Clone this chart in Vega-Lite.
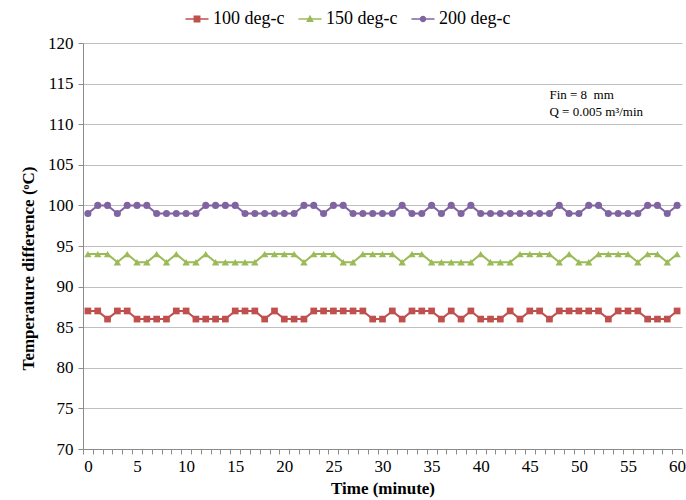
{
  "$schema": "https://vega.github.io/schema/vega-lite/v6.json",
  "width": 599,
  "height": 406,
  "autosize": {"type": "none"},
  "padding": {"left": 83, "top": 43, "right": 4, "bottom": 51},
  "background": "white",
  "config": {
    "view": {"stroke": null},
    "font": "Liberation Serif",
    "axis": {"labelFont": "Liberation Serif", "titleFont": "Liberation Serif", "labelColor": "black", "titleColor": "black", "labelFontSize": 17, "titleFontSize": 17, "titleFontWeight": "bold"},
    "legend": {"labelFont": "Liberation Serif", "labelFontSize": 18, "labelColor": "black", "orient": "none", "legendX": 105, "legendY": -33, "direction": "horizontal", "title": null, "symbolSize": 237, "columnPadding": 13, "symbolStrokeWidth": 0, "labelOffset": 7}
  },
  "datasets": {
    "series": [
      {"t":0,"100 deg-c":87,"150 deg-c":94,"200 deg-c":99},
      {"t":1,"100 deg-c":87,"150 deg-c":94,"200 deg-c":100},
      {"t":2,"100 deg-c":86,"150 deg-c":94,"200 deg-c":100},
      {"t":3,"100 deg-c":87,"150 deg-c":93,"200 deg-c":99},
      {"t":4,"100 deg-c":87,"150 deg-c":94,"200 deg-c":100},
      {"t":5,"100 deg-c":86,"150 deg-c":93,"200 deg-c":100},
      {"t":6,"100 deg-c":86,"150 deg-c":93,"200 deg-c":100},
      {"t":7,"100 deg-c":86,"150 deg-c":94,"200 deg-c":99},
      {"t":8,"100 deg-c":86,"150 deg-c":93,"200 deg-c":99},
      {"t":9,"100 deg-c":87,"150 deg-c":94,"200 deg-c":99},
      {"t":10,"100 deg-c":87,"150 deg-c":93,"200 deg-c":99},
      {"t":11,"100 deg-c":86,"150 deg-c":93,"200 deg-c":99},
      {"t":12,"100 deg-c":86,"150 deg-c":94,"200 deg-c":100},
      {"t":13,"100 deg-c":86,"150 deg-c":93,"200 deg-c":100},
      {"t":14,"100 deg-c":86,"150 deg-c":93,"200 deg-c":100},
      {"t":15,"100 deg-c":87,"150 deg-c":93,"200 deg-c":100},
      {"t":16,"100 deg-c":87,"150 deg-c":93,"200 deg-c":99},
      {"t":17,"100 deg-c":87,"150 deg-c":93,"200 deg-c":99},
      {"t":18,"100 deg-c":86,"150 deg-c":94,"200 deg-c":99},
      {"t":19,"100 deg-c":87,"150 deg-c":94,"200 deg-c":99},
      {"t":20,"100 deg-c":86,"150 deg-c":94,"200 deg-c":99},
      {"t":21,"100 deg-c":86,"150 deg-c":94,"200 deg-c":99},
      {"t":22,"100 deg-c":86,"150 deg-c":93,"200 deg-c":100},
      {"t":23,"100 deg-c":87,"150 deg-c":94,"200 deg-c":100},
      {"t":24,"100 deg-c":87,"150 deg-c":94,"200 deg-c":99},
      {"t":25,"100 deg-c":87,"150 deg-c":94,"200 deg-c":100},
      {"t":26,"100 deg-c":87,"150 deg-c":93,"200 deg-c":100},
      {"t":27,"100 deg-c":87,"150 deg-c":93,"200 deg-c":99},
      {"t":28,"100 deg-c":87,"150 deg-c":94,"200 deg-c":99},
      {"t":29,"100 deg-c":86,"150 deg-c":94,"200 deg-c":99},
      {"t":30,"100 deg-c":86,"150 deg-c":94,"200 deg-c":99},
      {"t":31,"100 deg-c":87,"150 deg-c":94,"200 deg-c":99},
      {"t":32,"100 deg-c":86,"150 deg-c":93,"200 deg-c":100},
      {"t":33,"100 deg-c":87,"150 deg-c":94,"200 deg-c":99},
      {"t":34,"100 deg-c":87,"150 deg-c":94,"200 deg-c":99},
      {"t":35,"100 deg-c":87,"150 deg-c":93,"200 deg-c":100},
      {"t":36,"100 deg-c":86,"150 deg-c":93,"200 deg-c":99},
      {"t":37,"100 deg-c":87,"150 deg-c":93,"200 deg-c":100},
      {"t":38,"100 deg-c":86,"150 deg-c":93,"200 deg-c":99},
      {"t":39,"100 deg-c":87,"150 deg-c":93,"200 deg-c":100},
      {"t":40,"100 deg-c":86,"150 deg-c":94,"200 deg-c":99},
      {"t":41,"100 deg-c":86,"150 deg-c":93,"200 deg-c":99},
      {"t":42,"100 deg-c":86,"150 deg-c":93,"200 deg-c":99},
      {"t":43,"100 deg-c":87,"150 deg-c":93,"200 deg-c":99},
      {"t":44,"100 deg-c":86,"150 deg-c":94,"200 deg-c":99},
      {"t":45,"100 deg-c":87,"150 deg-c":94,"200 deg-c":99},
      {"t":46,"100 deg-c":87,"150 deg-c":94,"200 deg-c":99},
      {"t":47,"100 deg-c":86,"150 deg-c":94,"200 deg-c":99},
      {"t":48,"100 deg-c":87,"150 deg-c":93,"200 deg-c":100},
      {"t":49,"100 deg-c":87,"150 deg-c":94,"200 deg-c":99},
      {"t":50,"100 deg-c":87,"150 deg-c":93,"200 deg-c":99},
      {"t":51,"100 deg-c":87,"150 deg-c":93,"200 deg-c":100},
      {"t":52,"100 deg-c":87,"150 deg-c":94,"200 deg-c":100},
      {"t":53,"100 deg-c":86,"150 deg-c":94,"200 deg-c":99},
      {"t":54,"100 deg-c":87,"150 deg-c":94,"200 deg-c":99},
      {"t":55,"100 deg-c":87,"150 deg-c":94,"200 deg-c":99},
      {"t":56,"100 deg-c":87,"150 deg-c":93,"200 deg-c":99},
      {"t":57,"100 deg-c":86,"150 deg-c":94,"200 deg-c":100},
      {"t":58,"100 deg-c":86,"150 deg-c":94,"200 deg-c":100},
      {"t":59,"100 deg-c":86,"150 deg-c":93,"200 deg-c":99},
      {"t":60,"100 deg-c":87,"150 deg-c":94,"200 deg-c":100}
    ],
    "notes": [
      {"x": 47.0, "y": 113.6, "label": "Fin = 8 \u00a0mm"},
      {"x": 47.0, "y": 111.5, "label": "Q = 0.005 m³/min"}
    ]
  },
  "layer": [
    {
      "data": {"name": "series"},
      "transform": [{"fold": ["100 deg-c", "150 deg-c", "200 deg-c"], "as": ["series", "value"]}],
      "mark": {"type": "line", "strokeWidth": 2},
      "encoding": {
        "x": {"field": "t", "type": "quantitative", "scale": {"domain": [-0.5, 60.5], "nice": false, "zero": false},
          "axis": {"values": [0,5,10,15,20,25,30,35,40,45,50,55,60], "tickSize": 0, "labelPadding": 9, "grid": false, "domainColor": "#8C8C8C", "title": "Time (minute)", "titlePadding": 6, "labelFlush": false, "orient": "bottom"}},
        "y": {"field": "value", "type": "quantitative", "scale": {"domain": [70, 120], "nice": false, "zero": false},
          "axis": {"values": [70,75,80,85,90,95,100,105,110,115,120], "grid": true, "gridColor": "#BFBFBF", "gridWidth": 1, "domainColor": "#8C8C8C", "tickColor": "#8C8C8C", "tickSize": 5, "labelPadding": 5, "title": "Temperature difference (ᵒC)", "titlePadding": 10, "titleY": 225}},
        "color": {"field": "series", "type": "nominal", "scale": {"domain": ["100 deg-c", "150 deg-c", "200 deg-c"], "range": ["#C0504D", "#9BBB59", "#8064A2"]},
          "legend": {"encode": {"symbols": {"update": {"shape": {"signal": "datum.value === '100 deg-c' ? 'M-1.5,-0.09H1.5V0.09H-1.5ZM-0.45,-0.45H0.45V0.45H-0.45Z' : datum.value === '150 deg-c' ? 'M-1.5,-0.09H1.5V0.09H-1.5ZM0,-0.55L0.5,0.4H-0.5Z' : 'M-1.5,-0.09H1.5V0.09H-1.5ZM0.42,0A0.42,0.42 0 1,1 -0.42,0A0.42,0.42 0 1,1 0.42,0Z'"}, "fill": {"signal": "scale('color', datum.value)"}, "stroke": {"value": "transparent"}, "opacity": {"value": 1}}}}}}
      }
    },
    {
      "data": {"name": "series"},
      "transform": [{"fold": ["100 deg-c"], "as": ["series", "value"]}],
      "mark": {"type": "point", "filled": true, "opacity": 1, "shape": "square", "size": 45},
      "encoding": {
        "x": {"field": "t", "type": "quantitative",
          "axis": {"values": [-0.5,0.5,1.5,2.5,3.5,4.5,5.5,6.5,7.5,8.5,9.5,10.5,11.5,12.5,13.5,14.5,15.5,16.5,17.5,18.5,19.5,20.5,21.5,22.5,23.5,24.5,25.5,26.5,27.5,28.5,29.5,30.5,31.5,32.5,33.5,34.5,35.5,36.5,37.5,38.5,39.5,40.5,41.5,42.5,43.5,44.5,45.5,46.5,47.5,48.5,49.5,50.5,51.5,52.5,53.5,54.5,55.5,56.5,57.5,58.5,59.5,60.5], "labels": false, "domain": false, "grid": false, "tickSize": 5, "tickColor": "#8C8C8C", "title": null, "orient": "bottom"}},
        "y": {"field": "value", "type": "quantitative"},
        "color": {"field": "series", "type": "nominal"}
      }
    },
    {
      "data": {"name": "series"},
      "transform": [{"fold": ["150 deg-c"], "as": ["series", "value"]}],
      "mark": {"type": "point", "filled": true, "opacity": 1, "shape": "triangle-up", "size": 55},
      "encoding": {
        "x": {"field": "t", "type": "quantitative", "axis": null},
        "y": {"field": "value", "type": "quantitative"},
        "color": {"field": "series", "type": "nominal"}
      }
    },
    {
      "data": {"name": "series"},
      "transform": [{"fold": ["200 deg-c"], "as": ["series", "value"]}],
      "mark": {"type": "point", "filled": true, "opacity": 1, "shape": "circle", "size": 50},
      "encoding": {
        "x": {"field": "t", "type": "quantitative", "axis": null},
        "y": {"field": "value", "type": "quantitative"},
        "color": {"field": "series", "type": "nominal"}
      }
    },
    {
      "data": {"name": "notes"},
      "mark": {"type": "text", "align": "left", "baseline": "middle", "font": "Liberation Serif", "fontSize": 13, "color": "black"},
      "encoding": {
        "x": {"field": "x", "type": "quantitative", "axis": null},
        "y": {"field": "y", "type": "quantitative"},
        "text": {"field": "label"}
      }
    }
  ],
  "resolve": {"axis": {"x": "independent"}}
}
